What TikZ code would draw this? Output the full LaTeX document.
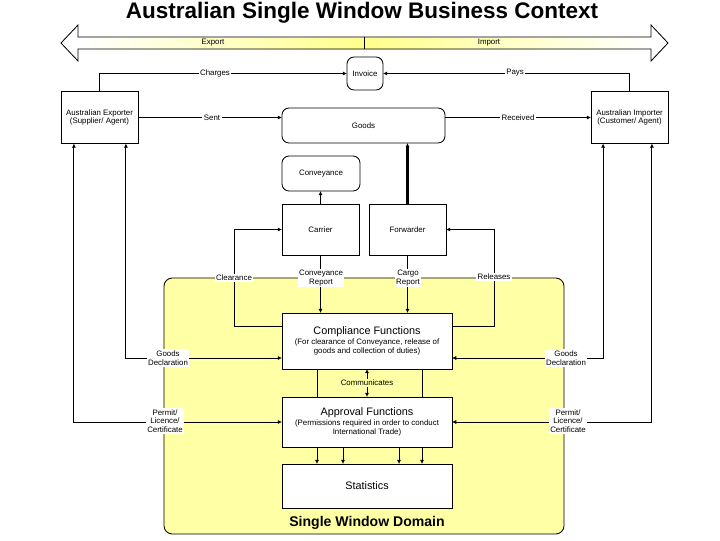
\documentclass[tikz,border=0pt]{standalone}
\usepackage{fontspec}
\setmainfont{Liberation Sans}
\usetikzlibrary{arrows.meta, positioning, calc}
\definecolor{swyellow}{RGB}{255,255,165}
\definecolor{baryellow}{RGB}{255,255,140}

\begin{document}
\begin{tikzpicture}[
  x=0.025cm, y=-0.025cm,
  every node/.style={font=\fontsize{5.6}{6.2}\selectfont},
  box/.style={rectangle, draw, fill=white, align=center, line width=0.6pt, inner sep=2pt, outer sep=0pt},
  rbox/.style={box, rounded corners=5pt},
  party/.style={box, minimum width=1.925cm, minimum height=1.3cm},
  agent/.style={box, minimum width=1.925cm, minimum height=1.275cm},
  func/.style={box, minimum width=4.25cm},
  lbl/.style={fill=white, align=center, inner sep=1pt},
  arr/.style={-{Latex[length=3pt,width=3pt]}, line width=0.6pt},
  darr/.style={{Latex[length=3pt,width=3pt]}-{Latex[length=3pt,width=3pt]}, line width=0.6pt},
  swregion/.style={rectangle, rounded corners=6pt, draw, fill=swyellow, line width=0.6pt},
]
\useasboundingbox (0,0) rectangle (720,540);

%% Title
\node[font=\bfseries\fontsize{16}{18}\selectfont] (title) at (362,13) {Australian Single Window Business Context};

%% Export / Import bar
\shade[left color=white, right color=baryellow] (78,37) rectangle (364,49);
\shade[left color=baryellow, right color=white] (364,37) rectangle (651,49);
\draw[line width=0.6pt] (61,43) -- (78,25) -- (78,37) -- (651,37) -- (651,25) -- (668,43)
  -- (651,61) -- (651,49) -- (78,49) -- (78,61) -- cycle;
\draw[line width=0.6pt] (364,37) -- (364,49);
\node (export) at (213,43) {Export};
\node (import) at (489,43) {Import};

%% Single Window domain
\node[swregion, minimum width=10cm, minimum height=6.4cm] (swdomain) at (364,406) {};
\node[font=\bfseries\fontsize{10}{12}\selectfont] (swdomainlbl) at (367,523) {Single Window Domain};

%% Trading parties
\node[party] (exporter) at (99.5,117.5) {Australian Exporter\\(Supplier/ Agent)};
\node[party] (importer) at (629.5,117.5) {Australian Importer\\(Customer/ Agent)};

%% Invoice, goods, conveyance
\node[rbox, minimum width=0.9cm, minimum height=0.825cm] (invoice) at (365,73.5) {Invoice};
\node[rbox, minimum width=4.075cm, minimum height=0.875cm] (goods) at (363.5,125.5) {Goods};
\node[rbox, minimum width=1.95cm, minimum height=0.875cm] (conveyance) at (321,173.5) {Conveyance};

%% Carrier and forwarder
\node[agent] (carrier) at (320.5,229.5) {Carrier};
\node[agent] (forwarder) at (407.5,229.5) {Forwarder};

%% Functions
\node[func, minimum height=1.4cm] (compliance) at (367,341)
  {{\fontsize{7.7}{9}\selectfont Compliance Functions}\\[1pt]
   (For clearance of Conveyance, release of\\goods and collection of duties)};
\node[func, minimum height=1.1cm] (statistics) at (367,486) {\fontsize{7.7}{9}\selectfont Statistics};

\draw[arr] ([xshift=-12.5mm]compliance.south) -- ([xshift=-12.5mm]statistics.north);
\draw[arr] ([xshift=13.75mm]compliance.south) -- ([xshift=13.75mm]statistics.north);

\node[func, minimum height=1.25cm] (approval) at (367,422)
  {{\fontsize{7.7}{9}\selectfont Approval Functions}\\[1pt]
   (Permissions required in order to conduct\\International Trade)};

\draw[arr] ([xshift=-6mm]approval.south) -- ([xshift=-6mm]statistics.north);
\draw[arr] ([xshift=8mm]approval.south) -- ([xshift=8mm]statistics.north);
\draw[darr] (compliance.south) -- (approval.north);

%% Commercial flows
\draw[arr] (exporter.north) |- (invoice.west);
\draw[arr] (importer.north) |- (invoice.east);
\draw[arr] (exporter.east) -- (exporter.east -| goods.west);
\draw[arr] (goods.east |- importer.west) -- (importer.west);

%% Transport flows
\draw[arr] (carrier.north) -- (carrier.north |- conveyance.south);
\draw[arr, line width=1.6pt] (forwarder.north) -- (forwarder.north |- goods.south);
\draw[arr] (carrier.south) -- (carrier.south |- compliance.north);
\draw[arr] (forwarder.south) -- (forwarder.south |- compliance.north);
\draw[arr] ([yshift=3.75mm]compliance.west) -| ([xshift=-12mm]carrier.west) -- (carrier.west);
\draw[arr] ([yshift=3.75mm]compliance.east) -| ([xshift=12mm]forwarder.east) -- (forwarder.east);

%% Declarations and permits
\draw[darr] ([xshift=6.6mm]exporter.south) |- ([yshift=-4.25mm]compliance.west);
\draw[darr] ([xshift=-6.4mm]exporter.south) |- (approval.west);
\draw[darr] ([xshift=-6.6mm]importer.south) |- ([yshift=-4.25mm]compliance.east);
\draw[darr] ([xshift=5.6mm]importer.south) |- (approval.east);

%% Labels
\node[lbl] (charges) at (215,73) {Charges};
\node[lbl] (pays) at (515,73) {Pays};
\node[lbl] (sent) at (212,117.5) {Sent};
\node[lbl] (received) at (518,117.5) {Received};
\node[lbl] (clearance) at (234,278) {Clearance};
\node[lbl] (convreport) at (321,278) {Conveyance\\Report};
\node[lbl] (cargoreport) at (408,278) {Cargo\\Report};
\node[lbl] (releases) at (494,277) {Releases};
\node[lbl] (gdleft) at (168,358) {Goods\\Declaration};
\node[lbl] (gdright) at (566,358) {Goods\\Declaration};
\node[lbl] (plcleft) at (165,421) {Permit/\\Licence/\\Certificate};
\node[lbl] (plcright) at (568,421) {Permit/\\Licence/\\Certificate};
\node[lbl, fill=swyellow] (communicates) at (367,383) {Communicates};

\end{tikzpicture}
\end{document}
